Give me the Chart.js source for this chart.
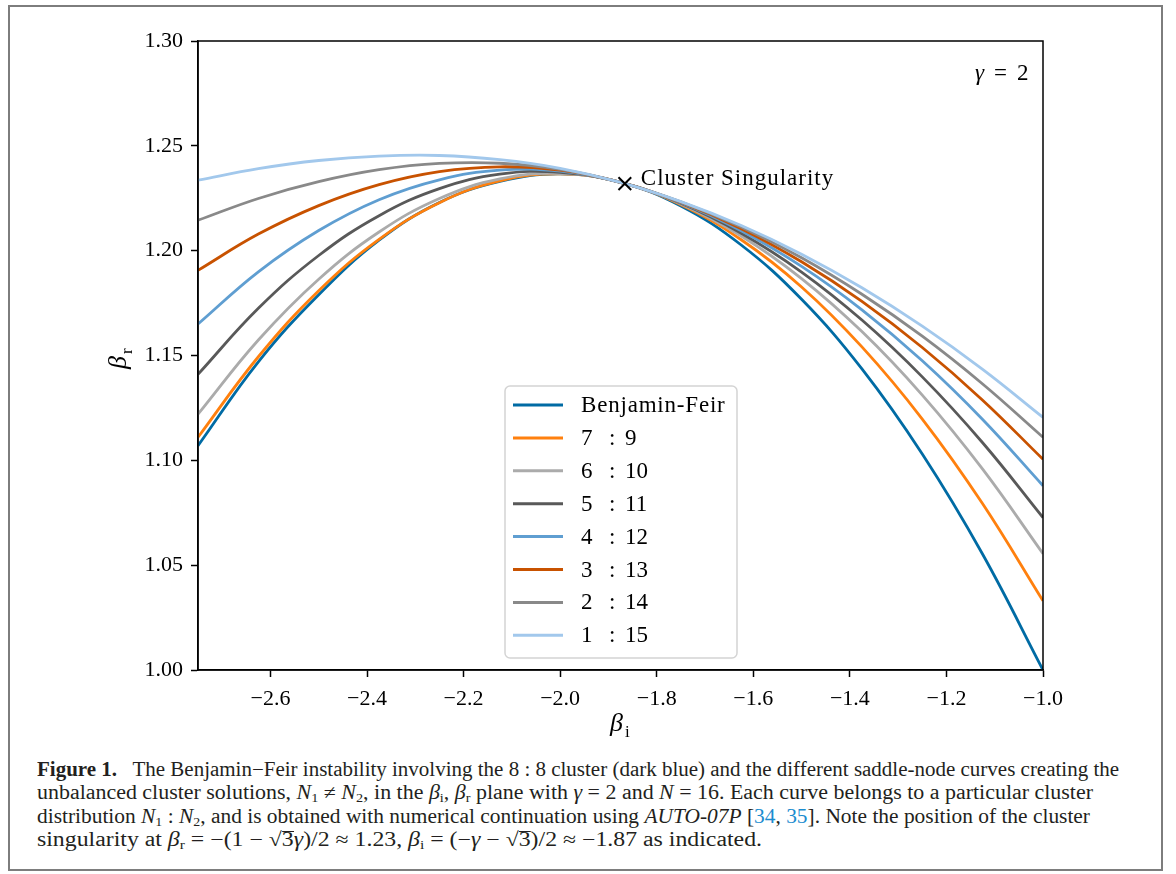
<!DOCTYPE html>
<html>
<head>
<meta charset="utf-8">
<script src="https://cdn.jsdelivr.net/npm/chart.js@4.4.1/dist/chart.umd.min.js"></script>
<style>
  html, body { margin: 0; padding: 0; background: #fff; }
  #frame { position: absolute; left: 8px; top: 5px; width: 1151px; height: 862px; border: 2px solid #7d7d7d; }
  #wrap { position: absolute; left: 0; top: 0; width: 1176px; height: 745px; }
  #caption { position: absolute; left: 37px; top: 758px; font-family: "Liberation Serif", serif; font-size: 20px; color: #231f20; }
  #caption div { white-space: nowrap; height: 23.4px; line-height: 23.4px; transform-origin: left center; display: inline-block; }
  #caption sub { font-size: 13px; vertical-align: -3px; line-height: 0; }
  .ref { color: #1b8ccf; }
  .ov { display: inline-block; border-top: 1px solid #231f20; line-height: 15px; }
</style>
</head>
<body>
<div id="frame"></div>
<div id="wrap"><canvas id="chart" width="1176" height="745"></canvas></div>
<div id="caption">
  <div><b>Figure 1.</b>&nbsp;&nbsp; The Benjamin−Feir instability involving the 8 : 8 cluster (dark blue) and the different saddle-node curves creating the</div><br>
  <div>unbalanced cluster solutions, <i>N</i><sub>1</sub> ≠ <i>N</i><sub>2</sub>, in the <i>β</i><sub>i</sub>, <i>β</i><sub>r</sub> plane with <i>γ</i> = 2 and <i>N</i> = 16. Each curve belongs to a particular cluster</div><br>
  <div>distribution <i>N</i><sub>1</sub> : <i>N</i><sub>2</sub>, and is obtained with numerical continuation using <i>AUTO-07P</i> [<span class="ref">34</span>, <span class="ref">35</span>]. Note the position of the cluster</div><br>
  <div>singularity at <i>β</i><sub>r</sub> = −(1 − √<span class="ov">3</span><i>γ</i>)/2 ≈ 1.23, <i>β</i><sub>i</sub> = (−<i>γ</i> − √<span class="ov">3</span>)/2 ≈ −1.87 as indicated.</div>
</div>
<script>
const betaI = [-2.75, -2.625, -2.5, -2.375, -2.25, -2.125, -2.0, -1.875, -1.75, -1.625, -1.5, -1.375, -1.25, -1.125, -1.0];

// beta_r for each curve
const benjaminFeir = [1.107, 1.147, 1.179, 1.205, 1.223, 1.233, 1.2366, 1.2326, 1.2213, 1.2027, 1.1768, 1.1436, 1.1030, 1.0552, 1.000];
const r7_9  = [1.111, 1.1494, 1.1809, 1.2054, 1.2229, 1.2333, 1.2366, 1.2326, 1.2219, 1.2052, 1.1827, 1.1541, 1.1197, 1.0793, 1.0330];
const r6_10 = [1.1220, 1.1574, 1.1864, 1.2089, 1.2249, 1.2342, 1.2368, 1.2326, 1.2223, 1.2070, 1.1867, 1.1614, 1.1311, 1.0958, 1.0555];
const r5_11 = [1.1410, 1.1725, 1.1977, 1.2167, 1.2296, 1.2365, 1.2374, 1.2326, 1.2226, 1.2083, 1.1898, 1.1669, 1.1398, 1.1084, 1.0727];
const r4_12 = [1.1650, 1.1899, 1.2096, 1.2243, 1.2338, 1.2384, 1.2379, 1.2326, 1.2229, 1.2095, 1.1925, 1.1718, 1.1475, 1.1195, 1.0879];
const r3_13 = [1.1906, 1.2079, 1.2215, 1.2315, 1.2377, 1.2400, 1.2384, 1.2326, 1.2231, 1.2105, 1.1947, 1.1758, 1.1538, 1.1287, 1.1005];
const r2_14 = [1.2145, 1.2249, 1.2329, 1.2386, 1.2416, 1.2417, 1.2388, 1.2326, 1.2233, 1.2113, 1.1966, 1.1792, 1.1592, 1.1364, 1.1110];
const r1_15 = [1.2336, 1.2391, 1.2430, 1.2451, 1.2454, 1.2434, 1.2393, 1.2326, 1.2234, 1.2120, 1.1983, 1.1823, 1.1640, 1.1434, 1.1205];

const seriesLabels = ['Benjamin-Feir', '7 : 9', '6 : 10', '5 : 11', '4 : 12', '3 : 13', '2 : 14', '1 : 15'];
const seriesValues = [benjaminFeir, r7_9, r6_10, r5_11, r4_12, r3_13, r2_14, r1_15];
const seriesColors = ['#006BA4', '#FF800E', '#ABABAB', '#595959', '#5F9ED1', '#C85200', '#898989', '#A2C8EC'];

const singularity = {x: -1.866, y: 1.232};
const xTicks = [-2.6, -2.4, -2.2, -2.0, -1.8, -1.6, -1.4, -1.2, -1.0];
const yTicks = [1.00, 1.05, 1.10, 1.15, 1.20, 1.25, 1.30];

const serif = "'Liberation Serif', 'DejaVu Serif', serif";
Chart.defaults.font.family = serif;
Chart.defaults.color = '#000';

let datasets = seriesValues.map((vals, i) => ({
  label: seriesLabels[i],
  data: betaI.map((x, j) => ({x: x, y: vals[j]})),
  borderColor: seriesColors[i],
  borderWidth: 2.8,
  pointRadius: 0,
  tension: 0.4,
  fill: false,
  order: seriesValues.length - i
}));
datasets.push({
  label: 'singularity',
  data: [singularity],
  showLine: false,
  pointStyle: 'crossRot',
  pointRadius: 9,
  borderColor: '#000',
  borderWidth: 2,
  order: 0
});

// box around the plot + text annotations + legend drawn inside the axes
const extras = {
  id: 'extras',
  afterDraw(chart) {
    const ctx = chart.ctx;
    const a = chart.chartArea;
    const xs = chart.scales.x, ys = chart.scales.y;
    ctx.save();
    ctx.strokeStyle = '#000';
    ctx.lineWidth = 1.5;
    ctx.strokeRect(a.left, a.top, a.right - a.left, a.bottom - a.top);

    // gamma label
    ctx.fillStyle = '#000';
    ctx.textBaseline = 'alphabetic';
    ctx.textAlign = 'left';
    ctx.font = 'italic 23px ' + serif;
    ctx.fillText('γ', 975, 80);
    ctx.font = '23px ' + serif;
    ctx.fillText('=', 994, 80);
    ctx.fillText('2', 1017, 80);

    // singularity label
    ctx.font = '23px ' + serif;
    ctx.letterSpacing = '1px';
    ctx.fillText('Cluster Singularity', xs.getPixelForValue(singularity.x) + 16, ys.getPixelForValue(singularity.y) + 1);
    ctx.letterSpacing = '0px';

    // axis titles
    ctx.font = 'italic 26px ' + serif;
    ctx.fillText('β', 610, 731);
    ctx.font = '17px ' + serif;
    ctx.fillText('i', 625, 737);
    ctx.translate(126, 369);
    ctx.rotate(-Math.PI / 2);
    ctx.font = 'italic 26px ' + serif;
    ctx.fillText('β', 0, 0);
    ctx.font = '17px ' + serif;
    ctx.fillText('r', 15, 6);
    ctx.restore();

    // legend
    ctx.save();
    const bx = 505, by = 386, bw = 232, bh = 272, r = 5;
    ctx.beginPath();
    ctx.roundRect(bx, by, bw, bh, r);
    ctx.fillStyle = 'rgba(255,255,255,0.85)';
    ctx.fill();
    ctx.strokeStyle = '#d4d4d4';
    ctx.lineWidth = 1.5;
    ctx.stroke();
    ctx.font = '23px ' + serif;
    ctx.textBaseline = 'middle';
    ctx.textAlign = 'left';
    seriesLabels.forEach((lab, i) => {
      const y = 405 + i * 32.9;
      ctx.strokeStyle = seriesColors[i];
      ctx.lineWidth = 3;
      ctx.beginPath();
      ctx.moveTo(513, y);
      ctx.lineTo(563, y);
      ctx.stroke();
      ctx.fillStyle = '#000';
      const parts = lab.split(' : ');
      if (parts.length === 2) {
        // math-style spacing round the colon
        ctx.fillText(parts[0], 581, y + 1);
        ctx.fillText(':', 609, y + 1);
        ctx.fillText(parts[1], 625, y + 1);
      } else {
        ctx.letterSpacing = '0.8px';
        ctx.fillText(lab, 581, y + 1);
        ctx.letterSpacing = '0px';
      }
    });
    ctx.restore();
  }
};

const fmt = (v, d) => v.toFixed(d).replace('-', '−');

new Chart(document.getElementById('chart'), {
  type: 'line',
  data: {datasets: datasets},
  options: {
    responsive: false,
    animation: false,
    devicePixelRatio: 1,
    layout: {padding: {left: 0, right: 133, top: 41, bottom: 0}},
    plugins: {legend: {display: false}, tooltip: {enabled: false}},
    scales: {
      x: {
        type: 'linear',
        min: -2.75,
        max: -1.0,
        afterBuildTicks: s => { s.ticks = xTicks.map(v => ({value: v})); },
        afterFit: s => { s.height = 75; },
        grid: {drawOnChartArea: false, tickLength: 7, tickColor: '#000', tickWidth: 1.5},
        border: {color: '#000', width: 1.5},
        ticks: {padding: 9, font: {size: 22}, callback: v => fmt(v, 1), maxRotation: 0}
      },
      y: {
        type: 'linear',
        min: 1.0,
        max: 1.3,
        afterBuildTicks: s => { s.ticks = yTicks.map(v => ({value: v})); },
        afterFit: s => { s.width = 198; },
        grid: {drawOnChartArea: false, tickLength: 7, tickColor: '#000', tickWidth: 1.5},
        border: {color: '#000', width: 1.5},
        ticks: {padding: 8, font: {size: 22}, callback: v => fmt(v, 2)}
      }
    }
  },
  plugins: [extras]
});

// stretch caption lines to the widths of the printed caption
const lineWidths = [1082, 1056, 1053, 725];
document.querySelectorAll('#caption div').forEach((el, i) => {
  const w = el.getBoundingClientRect().width;
  el.style.transform = 'scaleX(' + (lineWidths[i] / w).toFixed(4) + ')';
});
</script>
</body>
</html>
